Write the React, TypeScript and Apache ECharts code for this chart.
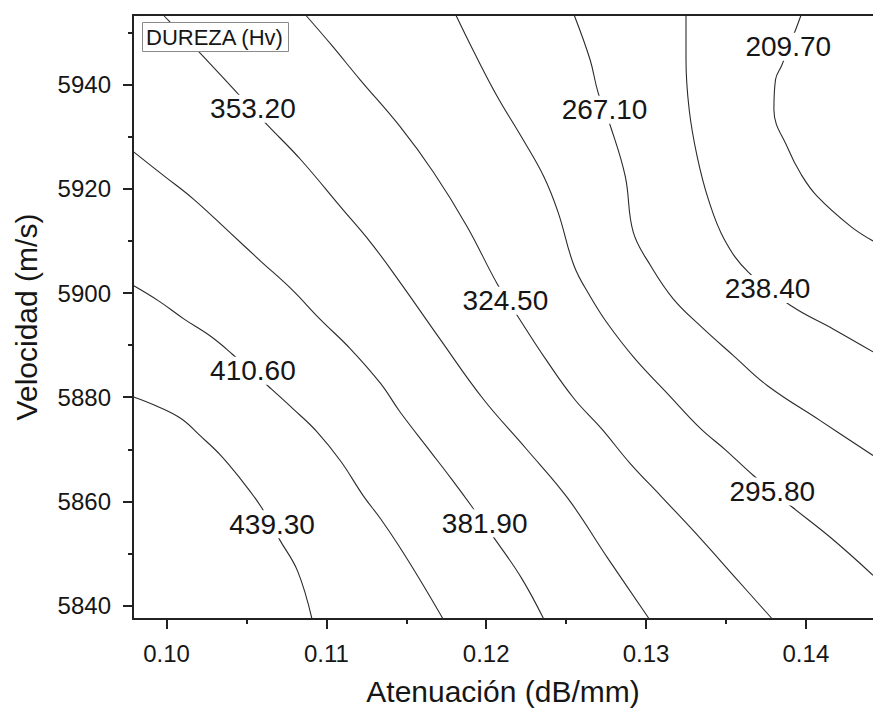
import React, { useEffect, useRef } from "react";
import * as echarts from "echarts";

// Axis ticks
const xMajorTicks = [0.1, 0.11, 0.12, 0.13, 0.14];
const xMinorTicks = [0.105, 0.115, 0.125, 0.135];
const yMajorTicks = [5840, 5860, 5880, 5900, 5920, 5940];
const yMinorTicks = [5850, 5870, 5890, 5910, 5930, 5950];

// Contour levels (Hv)
const levels = ["209.70", "238.40", "267.10", "295.80", "324.50", "353.20", "381.90", "410.60", "439.30"];

// Contour lines: [atenuación, velocidad]
const c209_70 = [[0.1397, 5953.4], [0.1394, 5950.9], [0.1385, 5943.8], [0.1381, 5941.0], [0.138, 5935.2], [0.1389, 5927.6], [0.1397, 5922.8], [0.1407, 5918.6], [0.1428, 5912.8], [0.1442, 5910.0]];
const c238_40 = [[0.1325, 5953.4], [0.1325, 5944.8], [0.1327, 5935.2], [0.1332, 5926.2], [0.1339, 5918.0], [0.1349, 5910.3], [0.1364, 5904.0], [0.1391, 5897.5], [0.1417, 5893.1], [0.1442, 5888.7]];
const c267_10 = [[0.1255, 5953.4], [0.1265, 5944.8], [0.127, 5938.5], [0.1278, 5931.8], [0.1287, 5922.4], [0.1292, 5911.7], [0.1303, 5905.2], [0.1317, 5898.9], [0.1334, 5893.7], [0.1355, 5887.9], [0.1376, 5882.2], [0.1409, 5875.5], [0.1442, 5868.8]];
const c295_80 = [[0.1181, 5953.4], [0.1193, 5945.9], [0.1207, 5937.7], [0.1222, 5930.0], [0.1236, 5922.4], [0.1245, 5915.5], [0.1255, 5905.2], [0.1265, 5899.4], [0.1276, 5894.1], [0.1293, 5887.4], [0.1314, 5880.5], [0.1334, 5874.0], [0.135, 5869.8], [0.1367, 5865.0], [0.1391, 5859.0], [0.1416, 5852.9], [0.1442, 5845.8]];
const c324_50 = [[0.1087, 5953.4], [0.1103, 5947.7], [0.1121, 5941.0], [0.1146, 5932.0], [0.1167, 5923.2], [0.1188, 5912.8], [0.1207, 5901.7], [0.122, 5895.4], [0.1237, 5887.4], [0.1255, 5879.7], [0.1272, 5874.0], [0.129, 5867.3], [0.1309, 5861.1], [0.1334, 5852.9], [0.1356, 5845.3], [0.1379, 5837.4]];
const c353_20 = [[0.0998, 5953.4], [0.1001, 5952.4], [0.1021, 5946.1], [0.1044, 5938.5], [0.1063, 5932.3], [0.1084, 5925.6], [0.1109, 5916.5], [0.1128, 5909.6], [0.1146, 5902.1], [0.1171, 5891.2], [0.1198, 5879.7], [0.1225, 5870.1], [0.1251, 5860.6], [0.1276, 5849.1], [0.1302, 5837.4]];
const c381_90 = [[0.0979, 5927.2], [0.0998, 5922.6], [0.1017, 5918.0], [0.104, 5911.5], [0.1059, 5906.1], [0.1078, 5900.8], [0.1096, 5895.0], [0.1115, 5889.3], [0.1134, 5882.6], [0.1146, 5877.2], [0.1165, 5869.6], [0.1178, 5864.4], [0.1191, 5859.0], [0.1206, 5852.5], [0.1222, 5845.3], [0.1236, 5837.4]];
const c410_60 = [[0.0979, 5901.5], [0.0995, 5898.5], [0.1011, 5895.0], [0.1028, 5891.6], [0.1041, 5888.3], [0.1064, 5882.0], [0.1079, 5877.8], [0.1094, 5873.4], [0.1109, 5867.7], [0.1123, 5861.1], [0.1134, 5856.6], [0.1145, 5851.6], [0.1159, 5844.7], [0.1173, 5837.4]];
const c439_30 = [[0.0979, 5880.1], [0.0993, 5878.4], [0.1009, 5875.9], [0.1021, 5872.6], [0.1034, 5868.8], [0.1046, 5864.4], [0.1059, 5859.0], [0.1071, 5852.5], [0.1082, 5846.6], [0.1091, 5837.4]];

const contours = [c209_70, c238_40, c267_10, c295_80, c324_50, c353_20, c381_90, c410_60, c439_30];

// Where each level's label sits on its line
const labelX = [0.1389, 0.1376, 0.1274, 0.1379, 0.1212, 0.1054, 0.1199, 0.1054, 0.1066];
const labelY = [5947.3, 5900.8, 5935.2, 5861.9, 5898.5, 5935.4, 5855.8, 5885.1, 5855.6];

const X_MIN = 0.0979;
const X_MAX = 0.1442;
const Y_MIN = 5837.4;
const Y_MAX = 5953.4;

const FONT = '"Liberation Sans", Arial, Helvetica, sans-serif';
const INK = "#161616";

export default function App() {
  const ref = useRef<HTMLDivElement>(null);

  useEffect(() => {
    if (!ref.current) return;
    const chart = echarts.init(ref.current, undefined, { renderer: "svg" });

    const lineSeries = contours.map((pts, i) => ({
      type: "line",
      name: levels[i],
      data: pts,
      xAxisIndex: 0,
      yAxisIndex: 0,
      showSymbol: false,
      symbol: "none",
      smooth: 0.4,
      lineStyle: { color: "#2b2b2b", width: 1.1 },
      z: 2,
      silent: true,
    }));

    const labelSeries = {
      type: "scatter",
      xAxisIndex: 0,
      yAxisIndex: 0,
      symbolSize: 0,
      z: 5,
      silent: true,
      itemStyle: { opacity: 1, color: "#ffffff" },
      data: levels.map((t, i) => [labelX[i], labelY[i], t]),
      label: {
        show: true,
        position: "inside",
        formatter: (p: any) => p.value[2],
        fontFamily: FONT,
        fontSize: 28,
        color: INK,
        opacity: 1,
        backgroundColor: "#ffffff",
        padding: [0, 2],
        lineHeight: 28,
      },
    };

    const axisLineStyle = { color: "#222", width: 2 };

    chart.setOption({
      animation: false,
      backgroundColor: "#ffffff",
      title: {
        text: "DUREZA (Hv)",
        left: 142,
        top: 22,
        padding: [3, 5, 3, 4],
        borderColor: "#8a8a8a",
        borderWidth: 1,
        backgroundColor: "#ffffff",
        z: 10,
        textStyle: { fontFamily: FONT, fontSize: 22, fontWeight: "normal", color: INK, lineHeight: 24 },
      },
      grid: { left: 133, right: 0, top: 15, bottom: 90 },
      xAxis: [
        {
          type: "value",
          min: X_MIN,
          max: X_MAX,
          position: "bottom",
          name: "Atenuación (dB/mm)",
          nameLocation: "middle",
          nameGap: 57,
          nameTextStyle: { fontFamily: FONT, fontSize: 30, color: INK },
          axisLine: { show: true, lineStyle: axisLineStyle },
          axisTick: { show: true, inside: false, length: 10, lineStyle: { color: "#222", width: 2 }, customValues: xMajorTicks },
          axisLabel: {
            show: true,
            customValues: xMajorTicks,
            formatter: (v: number) => v.toFixed(2),
            fontFamily: FONT,
            fontSize: 24,
            color: INK,
            margin: 22,
          },
          splitLine: { show: false },
        },
        {
          type: "value",
          min: X_MIN,
          max: X_MAX,
          position: "bottom",
          axisLine: { show: false },
          axisTick: { show: true, inside: false, length: 5, lineStyle: { color: "#222", width: 2 }, customValues: xMinorTicks },
          axisLabel: { show: false },
          splitLine: { show: false },
        },
        {
          type: "value",
          min: X_MIN,
          max: X_MAX,
          position: "top",
          axisLine: { show: true, lineStyle: axisLineStyle },
          axisTick: { show: false },
          axisLabel: { show: false },
          splitLine: { show: false },
        },
      ],
      yAxis: [
        {
          type: "value",
          min: Y_MIN,
          max: Y_MAX,
          position: "left",
          name: "Velocidad (m/s)",
          nameLocation: "middle",
          nameGap: 92,
          nameTextStyle: { fontFamily: FONT, fontSize: 30, color: INK },
          axisLine: { show: true, lineStyle: axisLineStyle },
          axisTick: { show: true, inside: false, length: 10, lineStyle: { color: "#222", width: 2 }, customValues: yMajorTicks },
          axisLabel: {
            show: true,
            customValues: yMajorTicks,
            formatter: (v: number) => String(Math.round(v)),
            fontFamily: FONT,
            fontSize: 24,
            color: INK,
            margin: 22,
          },
          splitLine: { show: false },
        },
        {
          type: "value",
          min: Y_MIN,
          max: Y_MAX,
          position: "left",
          axisLine: { show: false },
          axisTick: { show: true, inside: false, length: 5, lineStyle: { color: "#222", width: 2 }, customValues: yMinorTicks },
          axisLabel: { show: false },
          splitLine: { show: false },
        },
      ],
      series: [...lineSeries, labelSeries],
    });

    return () => chart.dispose();
  }, []);

  return (
    <div
      ref={ref}
      style={{ position: "fixed", left: 0, top: 0, width: 873, height: 711, background: "#fff" }}
    />
  );
}
